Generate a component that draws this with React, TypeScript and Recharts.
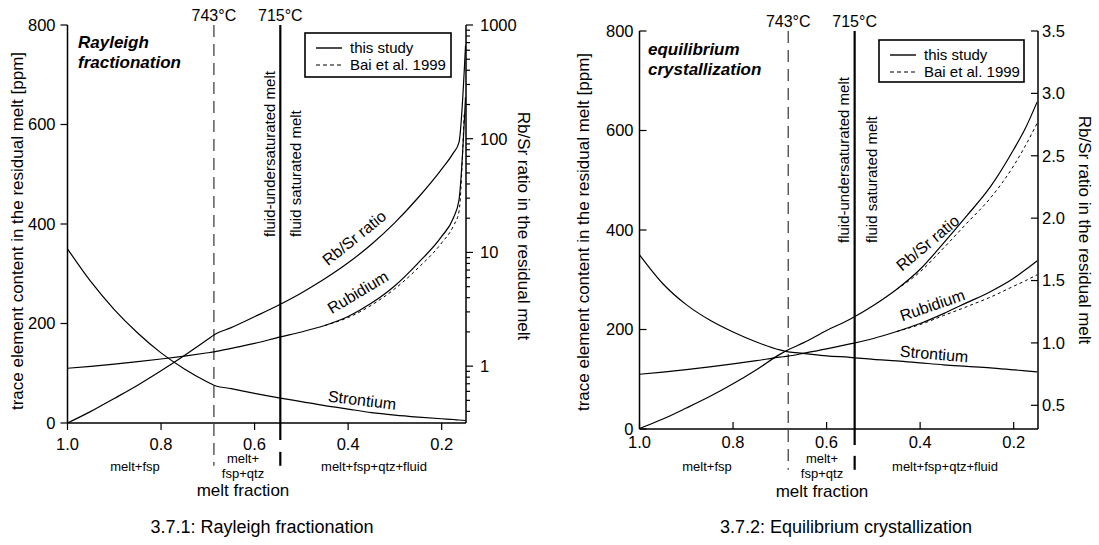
import React from 'react';
import { LineChart, Line, XAxis, YAxis, ReferenceLine, ReferenceDot } from 'recharts';

const FONT = "'Liberation Sans', Arial, Helvetica, sans-serif";

// 3.7.1 Rayleigh fractionation: melt fraction steps and values
const rayF = [1.0, 0.95, 0.9, 0.85, 0.8, 0.75, 0.7, 0.687, 0.65, 0.6, 0.545, 0.5, 0.45, 0.4, 0.35, 0.3, 0.25, 0.2, 0.175, 0.163, 0.149];
const rayRb = [110, 114, 118.4, 123.3, 128.6, 134.6, 141.2, 143, 150, 160, 173, 183, 196, 214, 241, 276, 322, 375, 412, 448, 655];
const raySr = [350, 284, 228, 181, 141, 108.6, 82, 76, 69, 59.5, 50, 43, 35, 28, 21, 16, 12, 8.5, 7, 6, 5];
const rayRatio = [0.316, 0.4, 0.52, 0.68, 0.91, 1.24, 1.72, 1.88, 2.18, 2.72, 3.5, 4.4, 5.86, 8.1, 11.8, 18.3, 30.4, 54, 75, 93, 660];
const rayBaiF = [0.45, 0.4, 0.35, 0.3, 0.25, 0.2, 0.175, 0.163, 0.152];
const rayBaiRb = [196, 212, 237, 270, 312, 362, 396, 425, 620];

// 3.7.2 Equilibrium crystallization
const eqF = [1.0, 0.95, 0.9, 0.85, 0.8, 0.75, 0.7, 0.682, 0.65, 0.6, 0.55, 0.5, 0.45, 0.4, 0.35, 0.3, 0.25, 0.2, 0.175, 0.15];
const eqRb = [110, 114.5, 119.4, 124.8, 130.8, 137.4, 144.4, 146.5, 152, 161, 171, 182, 196, 212, 232, 254, 276, 303, 320, 338];
const eqSr = [350, 292, 250, 219, 195, 175, 159, 155, 152, 147, 144, 140, 137, 133, 129, 126, 123, 119, 117, 115];
const eqRatio = [0.314, 0.39, 0.478, 0.57, 0.672, 0.785, 0.908, 0.945, 1.0, 1.1, 1.19, 1.3, 1.43, 1.59, 1.8, 2.02, 2.25, 2.55, 2.72, 2.93];
const eqBaiF = [0.45, 0.4, 0.35, 0.3, 0.25, 0.2, 0.175, 0.15];
const eqBaiRb = [196, 210, 228, 246, 265, 287, 298, 310];
const eqBaiRatio = [1.43, 1.57, 1.76, 1.96, 2.16, 2.42, 2.58, 2.76];

// ticks
const fracTicks = [1.0, 0.8, 0.6, 0.4, 0.2];
const ppmTicks = [0, 200, 400, 600, 800];
const logTicks = [
  0.4, 0.5, 0.6, 0.7, 0.8, 0.9, 1, 2, 3, 4, 5, 6, 7, 8, 9, 10, 20, 30, 40, 50, 60, 70, 80, 90,
  100, 200, 300, 400, 500, 600, 700, 800, 900, 1000,
];
const logMajor = [1, 10, 100, 1000];
const linTicks = [0.5, 1.0, 1.5, 2.0, 2.5, 3.0, 3.5];

const zip = (f: number[], v: number[]) => f.map((x, i) => ({ f: x, v: v[i] }));
const fmt1 = (v: number) => v.toFixed(1);
const fmt0 = (v: number) => String(v);

function AxisTick(props: any) {
  const { x, y, payload, side, inward, gap, fmt, major } = props;
  const v = payload?.value;
  const isMajor = !major || major.some((m: number) => Math.abs(m - v) < 1e-9);
  const len = isMajor ? 7 : 4;
  const dir = inward ? -1 : 1;
  const lbl = isMajor ? fmt(v) : '';
  const txt = { fontSize: 16.5, fontFamily: FONT, fill: '#000' };
  if (side === 'bottom') {
    return (
      <g>
        <line x1={x} x2={x} y1={y} y2={y + dir * len} stroke="#000" strokeWidth={1.2} />
        {lbl && <text x={x} y={y + gap} textAnchor="middle" {...txt}>{lbl}</text>}
      </g>
    );
  }
  if (side === 'left') {
    return (
      <g>
        <line x1={x} x2={x - dir * len} y1={y} y2={y} stroke="#000" strokeWidth={1.2} />
        {lbl && <text x={x - gap} y={y} dy="0.36em" textAnchor="end" {...txt}>{lbl}</text>}
      </g>
    );
  }
  return (
    <g>
      <line x1={x} x2={x + dir * len} y1={y} y2={y} stroke="#000" strokeWidth={1.2} />
      {lbl && <text x={x + gap} y={y} dy="0.36em" textAnchor="start" {...txt}>{lbl}</text>}
    </g>
  );
}

function LineTag(props: any) {
  const { viewBox, tag, sideOff } = props;
  if (!viewBox) return null;
  const cx = viewBox.x + (viewBox.width || 0) / 2;
  const top = viewBox.y;
  return (
    <g fontFamily={FONT} fill="#000">
      <text x={cx} y={top - 4} textAnchor="middle" fontSize={16}>{tag}</text>
      {sideOff && (
        <>
          <text transform={`translate(${cx + sideOff[0]},${top + 212}) rotate(-90)`} fontSize={15}>
            fluid-undersaturated melt
          </text>
          <text transform={`translate(${cx + sideOff[1]},${top + 212}) rotate(-90)`} fontSize={15}>
            fluid saturated melt
          </text>
        </>
      )}
    </g>
  );
}

function CurveTag(props: any) {
  const { viewBox, txt, rot } = props;
  if (!viewBox) return null;
  const cx = viewBox.x + (viewBox.width || 0) / 2;
  const cy = viewBox.y + (viewBox.height || 0) / 2;
  return (
    <text x={cx} y={cy} dy="0.35em" textAnchor="middle" fontSize={16} fontFamily={FONT} fill="#000"
      transform={`rotate(${rot} ${cx} ${cy})`}>
      {txt}
    </text>
  );
}

type Tag = { txt: string; f: number; ppm: number; rot: number };

type PanelProps = {
  width: number;
  margin: { top: number; right: number; bottom: number; left: number };
  inward: boolean;
  gaps: { left: number; right: number; bottom: number };
  f: number[]; rb: number[]; sr: number[]; ratio: number[];
  baiF: number[]; baiRb: number[]; baiRatio?: number[];
  ratioScale: 'log' | 'linear';
  ratioDomain: [number, number];
  ratioTicks: number[];
  ratioMajor?: number[];
  ratioFmt: (v: number) => string;
  solidus: number; fluid: number;
  dashLow: number; solidLow: number; solidGap: [number, number];
  sideOff: [number, number];
  tags: Tag[];
};

const lineStyle = {
  type: 'monotone' as const,
  stroke: '#000',
  strokeWidth: 1.2,
  dot: false,
  activeDot: false,
  isAnimationActive: false,
};

function Panel(p: PanelProps) {
  const axisLine = { stroke: '#000', strokeWidth: 1.5 };
  return (
    <LineChart width={p.width} height={545} margin={p.margin}>
      <XAxis dataKey="f" type="number" domain={[0.148, 1]} reversed allowDataOverflow ticks={fracTicks}
        interval={0} height={30} tickSize={0} tickMargin={0} tickLine={false} axisLine={axisLine}
        tick={<AxisTick side="bottom" inward={p.inward} gap={p.gaps.bottom} fmt={fmt1} />} />
      <XAxis xAxisId="top" orientation="top" type="number" domain={[0.148, 1]} reversed allowDataOverflow
        height={0} tick={false} tickLine={false} axisLine={axisLine} />
      <YAxis yAxisId="ppm" type="number" domain={[0, 800]} allowDataOverflow ticks={ppmTicks} interval={0}
        width={37} tickSize={0} tickMargin={0} tickLine={false} axisLine={axisLine}
        tick={<AxisTick side="left" inward={p.inward} gap={p.gaps.left} fmt={fmt0} />} />
      <YAxis yAxisId="ratio" orientation="right" type="number" scale={p.ratioScale} domain={p.ratioDomain}
        allowDataOverflow ticks={p.ratioTicks} interval={0} width={40} tickSize={0} tickMargin={0}
        tickLine={false} axisLine={axisLine}
        tick={<AxisTick side="right" inward={p.inward} gap={p.gaps.right} fmt={p.ratioFmt} major={p.ratioMajor} />} />

      <ReferenceLine yAxisId="ppm" segment={[{ x: p.solidus, y: 800 }, { x: p.solidus, y: p.dashLow }]}
        ifOverflow="visible" stroke="#444" strokeWidth={1.3} strokeDasharray="12 7"
        label={<LineTag tag="743°C" />} />
      <ReferenceLine yAxisId="ppm" segment={[{ x: p.fluid, y: 800 }, { x: p.fluid, y: p.solidLow }]}
        ifOverflow="visible" stroke="#000" strokeWidth={2.2}
        label={<LineTag tag="715°C" sideOff={p.sideOff} />} />
      <ReferenceLine yAxisId="ppm" segment={[{ x: p.fluid, y: p.solidGap[0] }, { x: p.fluid, y: p.solidGap[1] }]}
        ifOverflow="visible" stroke="#000" strokeWidth={2.2} />

      <Line data={zip(p.f, p.sr)} dataKey="v" yAxisId="ppm" {...lineStyle} />
      <Line data={zip(p.f, p.rb)} dataKey="v" yAxisId="ppm" {...lineStyle} />
      <Line data={zip(p.baiF, p.baiRb)} dataKey="v" yAxisId="ppm" {...lineStyle} strokeWidth={1} strokeDasharray="3 3" />
      <Line data={zip(p.f, p.ratio)} dataKey="v" yAxisId="ratio" {...lineStyle} />
      {p.baiRatio && (
        <Line data={zip(p.baiF, p.baiRatio)} dataKey="v" yAxisId="ratio" {...lineStyle} strokeWidth={1} strokeDasharray="3 3" />
      )}

      {p.tags.map((t) => (
        <ReferenceDot key={t.txt} yAxisId="ppm" x={t.f} y={t.ppm} r={0} fill="none" stroke="none"
          label={<CurveTag txt={t.txt} rot={t.rot} />} />
      ))}
    </LineChart>
  );
}

function LegendBox({ x, y, w, h }: { x: number; y: number; w: number; h: number }) {
  return (
    <g fontFamily={FONT} fontSize={15}>
      <rect x={x} y={y} width={w} height={h} fill="#fff" stroke="#000" strokeWidth={1.6} />
      <line x1={x + 11} x2={x + 37} y1={y + 15} y2={y + 15} stroke="#000" strokeWidth={1.4} />
      <text x={x + 45} y={y + 20}>this study</text>
      <line x1={x + 11} x2={x + 37} y1={y + 32} y2={y + 32} stroke="#000" strokeWidth={1.2} strokeDasharray="4 3" />
      <text x={x + 45} y={y + 37}>Bai et al. 1999</text>
    </g>
  );
}

function Overlay() {
  const title = { fontSize: 17, fontWeight: 700, fontStyle: 'italic' as const };
  return (
    <svg width={1099} height={545} style={{ position: 'absolute', left: 0, top: 0, pointerEvents: 'none' }}
      fontFamily={FONT} fill="#000">
      {/* left panel */}
      <text x={78} y={48} {...title}>Rayleigh</text>
      <text x={78} y={68} {...title}>fractionation</text>
      <LegendBox x={305} y={33} w={146} h={44} />
      <text transform="translate(23,231) rotate(-90)" textAnchor="middle" fontSize={17}>
        trace element content in the residual melt [ppm]
      </text>
      <text transform="translate(518,226) rotate(90)" textAnchor="middle" fontSize={17}>
        Rb/Sr ratio in the residual melt
      </text>
      <g fontSize={13} textAnchor="middle">
        <text x={135} y={471}>melt+fsp</text>
        <text x={243} y={463}>melt+</text>
        <text x={243} y={478}>fsp+qtz</text>
        <text x={374} y={471}>melt+fsp+qtz+fluid</text>
      </g>
      <text x={243} y={496} fontSize={17} textAnchor="middle">melt fraction</text>
      <text x={262} y={533} fontSize={18} textAnchor="middle">3.7.1: Rayleigh fractionation</text>

      {/* right panel */}
      <text x={648} y={55} {...title}>equilibrium</text>
      <text x={648} y={75} {...title}>crystallization</text>
      <LegendBox x={879} y={40} w={145} h={42} />
      <text transform="translate(589,232) rotate(-90)" textAnchor="middle" fontSize={17}>
        trace element content in the residual melt [ppm]
      </text>
      <text transform="translate(1079,230) rotate(90)" textAnchor="middle" fontSize={17}>
        Rb/Sr ratio in the residual melt
      </text>
      <g fontSize={13} textAnchor="middle">
        <text x={707} y={471}>melt+fsp</text>
        <text x={822} y={463}>melt+</text>
        <text x={822} y={478}>fsp+qtz</text>
        <text x={945} y={471}>melt+fsp+qtz+fluid</text>
      </g>
      <text x={822} y={497} fontSize={17} textAnchor="middle">melt fraction</text>
      <text x={846} y={533} fontSize={18} textAnchor="middle">3.7.2: Equilibrium crystallization</text>
    </svg>
  );
}

export default function App() {
  return (
    <div style={{ position: 'absolute', left: 0, top: 0, width: 1099, height: 545, background: '#fff', fontFamily: FONT }}>
      <div style={{ position: 'absolute', left: 0, top: 0 }}>
        <Panel
          width={550}
          margin={{ top: 25, right: 44, bottom: 92, left: 30.5 }}
          inward={false}
          gaps={{ left: 12, right: 14, bottom: 27 }}
          f={rayF} rb={rayRb} sr={raySr} ratio={rayRatio}
          baiF={rayBaiF} baiRb={rayBaiRb}
          ratioScale="log" ratioDomain={[0.3162, 1000]} ratioTicks={logTicks} ratioMajor={logMajor} ratioFmt={fmt0}
          solidus={0.687} fluid={0.545}
          dashLow={-86} solidLow={-34} solidGap={[-58, -86]}
          sideOff={[-5, 21]}
          tags={[
            { txt: 'Rb/Sr ratio', f: 0.387, ppm: 372, rot: -39 },
            { txt: 'Rubidium', f: 0.379, ppm: 263, rot: -31 },
            { txt: 'Strontium', f: 0.37, ppm: 46, rot: 7 },
          ]}
        />
      </div>
      <div style={{ position: 'absolute', left: 550, top: 0 }}>
        <Panel
          width={549}
          margin={{ top: 31, right: 21, bottom: 86, left: 52.5 }}
          inward={true}
          gaps={{ left: 6, right: 4, bottom: 19 }}
          f={eqF} rb={eqRb} sr={eqSr} ratio={eqRatio}
          baiF={eqBaiF} baiRb={eqBaiRb} baiRatio={eqBaiRatio}
          ratioScale="linear" ratioDomain={[0.31, 3.5]} ratioTicks={linTicks} ratioFmt={fmt1}
          solidus={0.682} fluid={0.54}
          dashLow={-82} solidLow={-32} solidGap={[-54, -82]}
          sideOff={[-6, 22]}
          tags={[
            { txt: 'Rb/Sr ratio', f: 0.384, ppm: 374, rot: -40 },
            { txt: 'Rubidium', f: 0.374, ppm: 249, rot: -19 },
            { txt: 'Strontium', f: 0.37, ppm: 151, rot: 5 },
          ]}
        />
      </div>
      <Overlay />
    </div>
  );
}
